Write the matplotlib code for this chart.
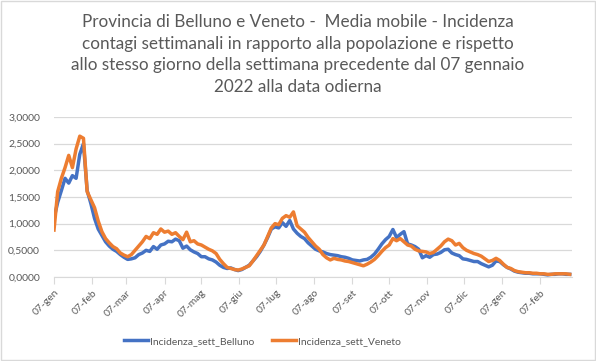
import matplotlib
matplotlib.use('Agg')
import matplotlib.pyplot as plt
import pandas as pd

plt.rcParams['font.family'] = ['Lato', 'DejaVu Sans']

# moving averages, one value every 3 days from 07/01/2022
belluno = [1.10, 1.40, 1.62, 1.85, 1.76, 1.90, 1.85, 2.30, 2.50, 1.62,
           1.38, 1.10, 0.90, 0.78, 0.66, 0.58, 0.52, 0.48, 0.42, 0.37,
           0.33, 0.34, 0.36, 0.42, 0.45, 0.50, 0.48, 0.57, 0.52, 0.60,
           0.62, 0.67, 0.66, 0.71, 0.68, 0.54, 0.58, 0.51, 0.47, 0.44,
           0.38, 0.38, 0.34, 0.32, 0.28, 0.22, 0.18, 0.16, 0.17, 0.14,
           0.12, 0.14, 0.18, 0.22, 0.30, 0.38, 0.48, 0.60, 0.74, 0.90,
           0.94, 0.92, 1.02, 0.95, 1.06, 0.90, 0.82, 0.76, 0.72, 0.64,
           0.58, 0.52, 0.49, 0.47, 0.44, 0.42, 0.41, 0.40, 0.38, 0.37,
           0.35, 0.32, 0.31, 0.30, 0.32, 0.33, 0.37, 0.43, 0.52, 0.62,
           0.70, 0.76, 0.89, 0.74, 0.80, 0.85, 0.62, 0.60, 0.57, 0.52,
           0.36, 0.40, 0.37, 0.42, 0.43, 0.46, 0.51, 0.52, 0.45, 0.42,
           0.40, 0.34, 0.33, 0.31, 0.29, 0.29, 0.25, 0.22, 0.19, 0.22,
           0.30, 0.29, 0.23, 0.18, 0.15, 0.11, 0.09, 0.08, 0.07, 0.07,
           0.06, 0.06, 0.06, 0.05, 0.04, 0.05, 0.05, 0.06, 0.06, 0.05,
           0.05]
veneto = [0.88, 1.60, 1.85, 2.05, 2.28, 2.05, 2.40, 2.64, 2.60, 1.60,
          1.45, 1.30, 1.05, 0.85, 0.72, 0.64, 0.57, 0.53, 0.45, 0.41,
          0.38, 0.42, 0.50, 0.58, 0.66, 0.76, 0.72, 0.83, 0.80, 0.90,
          0.84, 0.86, 0.80, 0.83, 0.76, 0.70, 0.84, 0.66, 0.68, 0.62,
          0.60, 0.56, 0.52, 0.49, 0.44, 0.33, 0.25, 0.18, 0.16, 0.14,
          0.13, 0.15, 0.18, 0.21, 0.30, 0.40, 0.50, 0.60, 0.76, 0.92,
          1.00, 0.98, 1.10, 1.15, 1.12, 1.22, 0.96, 0.90, 0.84, 0.74,
          0.66, 0.58, 0.52, 0.42, 0.36, 0.32, 0.35, 0.33, 0.32, 0.30,
          0.29, 0.27, 0.25, 0.23, 0.21, 0.24, 0.28, 0.33, 0.40, 0.48,
          0.55, 0.60, 0.72, 0.68, 0.72, 0.66, 0.60, 0.58, 0.52, 0.49,
          0.48, 0.47, 0.44, 0.46, 0.52, 0.58, 0.66, 0.71, 0.68, 0.60,
          0.63, 0.55, 0.50, 0.47, 0.44, 0.42, 0.39, 0.34, 0.29, 0.31,
          0.35, 0.31, 0.24, 0.18, 0.16, 0.12, 0.10, 0.09, 0.08, 0.08,
          0.07, 0.07, 0.06, 0.06, 0.05, 0.05, 0.06, 0.06, 0.06, 0.06,
          0.05]
tick_labels = ['07-gen', '07-feb', '07-mar', '07-apr', '07-mag', '07-giu', '07-lug',
               '07-ago', '07-set', '07-ott', '07-nov', '07-dic', '07-gen', '07-feb']
y_ticks = [0, 0.5, 1.0, 1.5, 2.0, 2.5, 3.0]

dates = pd.date_range('2022-01-07', periods=len(belluno), freq='3D')
tick_dates = pd.date_range('2022-01-07', periods=len(tick_labels), freq=pd.DateOffset(months=1))

grey = '#595959'
fig = plt.figure(figsize=(5.96, 3.61), dpi=100)
ax = fig.add_axes([0.0906, 0.2327, 0.8694, 0.4433])

ax.plot(dates, belluno, color='#4472C4', lw=2.5, label='Incidenza_sett_Belluno')
ax.plot(dates, veneto, color='#ED7D31', lw=2.5, label='Incidenza_sett_Veneto')

ax.set_ylim(0, 3)
ax.set_xlim(pd.Timestamp('2022-01-07'), pd.Timestamp('2023-03-05'))
ax.set_yticks(y_ticks)
ax.set_yticklabels([('%.4f' % v).replace('.', ',') for v in y_ticks], color=grey, fontsize=7.5)
ax.set_xticks(tick_dates)
ax.set_xticklabels(tick_labels, rotation=45, ha='right', va='top',
                   rotation_mode='anchor', color=grey, fontsize=7.5)

# Excel look: light grid, only bottom axis line
ax.grid(axis='y', color='#D9D9D9', lw=0.9)
ax.set_axisbelow(True)
for s in ['top', 'right', 'left']:
    ax.spines[s].set_visible(False)
ax.spines['bottom'].set_color('#D9D9D9')
ax.tick_params(axis='y', length=0, pad=10)
ax.tick_params(axis='x', length=5, color='#D9D9D9', direction='out', pad=3)

fig.text(0.5, 0.962, 'Provincia di Belluno e Veneto -  Media mobile - Incidenza\n'
         'contagi settimanali in rapporto alla popolazione e rispetto\n'
         'allo stesso giorno della settimana precedente dal 07 gennaio\n'
         '2022 alla data odierna',
         ha='center', va='top', fontsize=12.3, color=grey, linespacing=1.45)

fig.legend(loc='center', bbox_to_anchor=(0.44, 0.055), ncol=2, frameon=False,
           fontsize=7.5, handlelength=2.3, handletextpad=0.2, columnspacing=1.7,
           labelcolor=grey)

fig.add_artist(plt.Rectangle((0.001, 0.002), 0.997, 0.995, transform=fig.transFigure,
                             fill=False, ec='#D9D9D9', lw=1))

plt.savefig('out.png', dpi=100)
